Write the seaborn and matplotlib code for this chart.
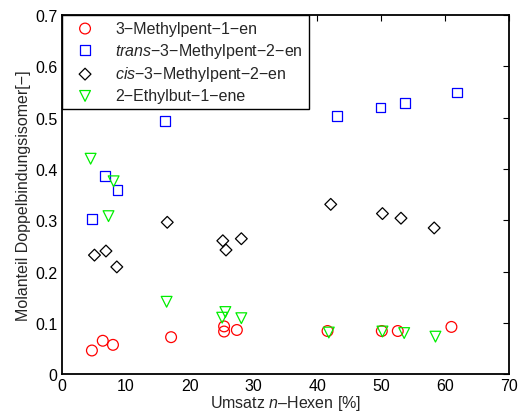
import pandas as pd
import matplotlib
matplotlib.use("Agg")
import matplotlib.pyplot as plt
import seaborn as sns

# data (Umsatz n-Hexen [%], Molanteil [-])
x_m1en = [4.7, 6.4, 8.0, 17.1, 25.4, 25.4, 27.4, 41.6, 50.1, 52.6, 61.0]
y_m1en = [0.046, 0.065, 0.057, 0.072, 0.093, 0.083, 0.086, 0.084, 0.084, 0.084, 0.092]

x_trans = [4.7, 6.8, 8.7, 16.2, 43.1, 49.9, 53.7, 61.9]
y_trans = [0.303, 0.386, 0.359, 0.493, 0.504, 0.520, 0.528, 0.549]

x_cis = [5.1, 6.9, 8.6, 16.5, 25.2, 25.7, 28.1, 42.1, 50.2, 53.1, 58.3]
y_cis = [0.232, 0.240, 0.209, 0.296, 0.260, 0.242, 0.264, 0.331, 0.313, 0.304, 0.285]

x_ethyl = [4.5, 8.1, 7.3, 16.4, 25.6, 25.1, 28.1, 41.8, 50.2, 53.6, 58.5]
y_ethyl = [0.420, 0.376, 0.308, 0.141, 0.121, 0.110, 0.109, 0.081, 0.083, 0.080, 0.073]

labels = ["3\u2212Methylpent\u22121\u2212en",
          r"$\it{trans}$" + "\u22123\u2212Methylpent\u22122\u2212en",
          r"$\it{cis}$" + "\u22123\u2212Methylpent\u22122\u2212en",
          "2\u2212Ethylbut\u22121\u2212ene"]

sns.set_style("white")
plt.rcParams['font.family'] = ['Liberation Sans', 'DejaVu Sans']
plt.rcParams['mathtext.fontset'] = 'custom'
plt.rcParams['mathtext.it'] = 'Liberation Sans:italic'
plt.rcParams['mathtext.rm'] = 'Liberation Sans'

fig = plt.figure(figsize=(5.29, 4.14), dpi=100)
ax = fig.add_axes([0.117, 0.094, 0.845, 0.867])

series = [
    (x_m1en, y_m1en, "o", "#ff0000", labels[0]),
    (x_trans, y_trans, "s", "#0000ff", labels[1]),
    (x_cis, y_cis, "D", "black", labels[2]),
    (x_ethyl, y_ethyl, "v", "#00ee00", labels[3]),
]
for xs, ys, mk, col, lab in series:
    df = pd.DataFrame({"x": xs, "y": ys})
    size = 60 if mk != "D" else 36
    if mk == "s":
        size = 50
    sns.scatterplot(data=df, x="x", y="y", marker=mk, s=size, color=col,
                    facecolor="none", edgecolor=col, linewidth=0.9,
                    label=lab, ax=ax)

ax.set_xlim(0, 70)
ax.set_ylim(0, 0.7)
ax.set_xticks(range(0, 71, 10))
ax.set_yticks([0, 0.1, 0.2, 0.3, 0.4, 0.5, 0.6, 0.7])
ax.set_yticklabels(["0", "0.1", "0.2", "0.3", "0.4", "0.5", "0.6", "0.7"])
ax.tick_params(direction="in", top=True, right=True, length=4, width=0.8,
               labelsize=11.5, colors="black", pad=3)
for sp in ax.spines.values():
    sp.set_linewidth(1.3)
    sp.set_color("black")

ax.set_xlabel(r"Umsatz $\it{n}$" + "\u2013Hexen [%]", fontsize=11.5, labelpad=0)
ax.set_ylabel("Molanteil Doppelbindungsisomer[\u2212]", fontsize=11.5, labelpad=3)

leg = ax.legend(loc="upper left", borderaxespad=0, fancybox=False,
                edgecolor="black", framealpha=1, fontsize=11.5,
                handletextpad=0.8, labelspacing=0.3, borderpad=0.35,
                handlelength=2.2)
leg.get_frame().set_linewidth(1.0)

fig.savefig("out.png", dpi=100)
